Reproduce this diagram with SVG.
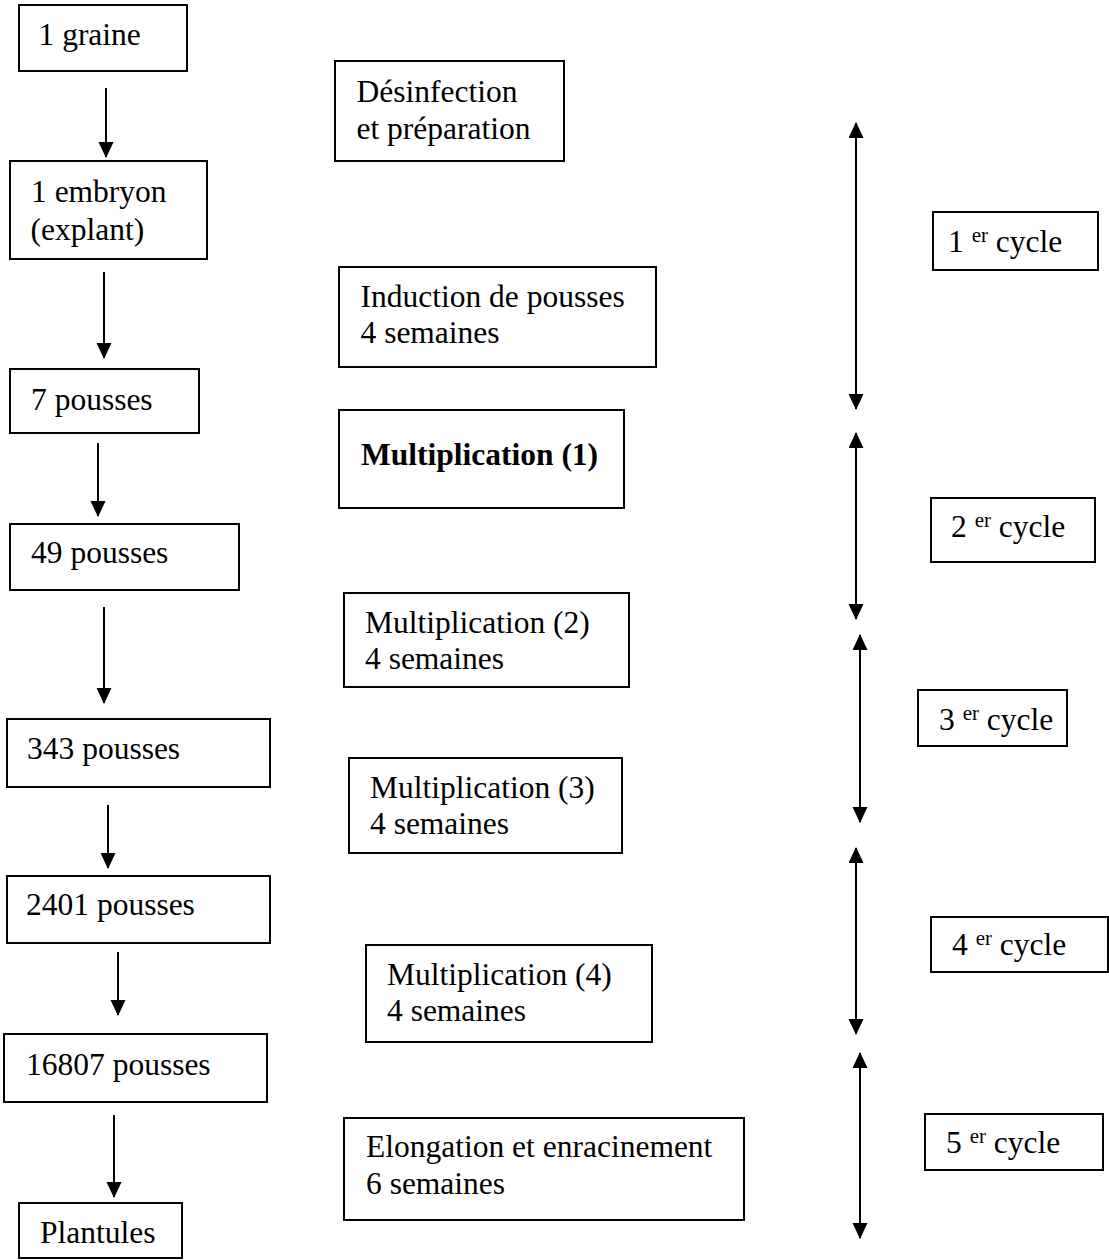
<svg xmlns="http://www.w3.org/2000/svg" width="1109" height="1260" viewBox="0 0 1109 1260">
<style>
rect{fill:#fff;stroke:#000;stroke-width:2}
text{font-family:"Liberation Serif","Times New Roman",serif;font-size:31.5px;fill:#000}
.b{font-weight:bold}
.sup{font-size:21px}
.c line{stroke:#000;stroke-width:2}
</style>
<defs>
<marker id="ah" markerUnits="userSpaceOnUse" markerWidth="16" markerHeight="16" refX="15" refY="7.5" orient="auto-start-reverse">
<path d="M0,0 L16,7.5 L0,15 z" fill="#000"/>
</marker>
</defs>
<rect x="0" y="0" width="1109" height="1260" style="stroke:none"/>
<g class="c" id="connectors">
<line x1="106" y1="88" x2="106" y2="157" marker-end="url(#ah)"/>
<line x1="104" y1="272" x2="104" y2="358" marker-end="url(#ah)"/>
<line x1="98" y1="443" x2="98" y2="516" marker-end="url(#ah)"/>
<line x1="104" y1="607" x2="104" y2="703" marker-end="url(#ah)"/>
<line x1="108" y1="805" x2="108" y2="868" marker-end="url(#ah)"/>
<line x1="118" y1="952" x2="118" y2="1015" marker-end="url(#ah)"/>
<line x1="114" y1="1115" x2="114" y2="1197" marker-end="url(#ah)"/>
<line x1="856" y1="123" x2="856" y2="409" marker-start="url(#ah)" marker-end="url(#ah)"/>
<line x1="856" y1="433" x2="856" y2="619" marker-start="url(#ah)" marker-end="url(#ah)"/>
<line x1="860" y1="635" x2="860" y2="822" marker-start="url(#ah)" marker-end="url(#ah)"/>
<line x1="856" y1="848" x2="856" y2="1034" marker-start="url(#ah)" marker-end="url(#ah)"/>
<line x1="860" y1="1053" x2="860" y2="1238" marker-start="url(#ah)" marker-end="url(#ah)"/>
</g>
<g id="n-graine"><rect x="19" y="5" width="168" height="66"/><text x="38.5" y="45">1 graine</text></g>
<g id="n-embryon"><rect x="10" y="161" width="197" height="98"/><text x="31" y="202">1 embryon</text><text x="30.5" y="240">(explant)</text></g>
<g id="n-7"><rect x="10" y="369" width="189" height="64"/><text x="31" y="410">7 pousses</text></g>
<g id="n-49"><rect x="10" y="524" width="229" height="66"/><text x="31" y="563">49 pousses</text></g>
<g id="n-343"><rect x="7" y="719" width="263" height="68"/><text x="27" y="759">343 pousses</text></g>
<g id="n-2401"><rect x="7" y="876" width="263" height="67"/><text x="26" y="915">2401 pousses</text></g>
<g id="n-16807"><rect x="4" y="1034" width="263" height="68"/><text x="26" y="1075">16807 pousses</text></g>
<g id="n-plantules"><rect x="19" y="1203" width="163" height="55"/><text x="40" y="1243">Plantules</text></g>
<g id="s-desinfection"><rect x="335" y="61" width="229" height="100"/><text x="356.5" y="102">Désinfection</text><text x="356.5" y="138.5">et préparation</text></g>
<g id="s-induction"><rect x="339" y="267" width="317" height="100"/><text x="360.5" y="307">Induction de pousses</text><text x="360.5" y="343">4 semaines</text></g>
<g id="s-mult1"><rect x="339" y="410" width="285" height="98"/><text class="b" x="361" y="465">Multiplication (1)</text></g>
<g id="s-mult2"><rect x="344" y="593" width="285" height="94"/><text x="365" y="633">Multiplication (2)</text><text x="365" y="669">4 semaines</text></g>
<g id="s-mult3"><rect x="349" y="758" width="273" height="95"/><text x="370" y="798">Multiplication (3)</text><text x="370" y="834">4 semaines</text></g>
<g id="s-mult4"><rect x="366" y="945" width="286" height="97"/><text x="387" y="985">Multiplication (4)</text><text x="387" y="1021">4 semaines</text></g>
<g id="s-elong"><rect x="344" y="1118" width="400" height="102"/><text x="366" y="1157">Elongation et enracinement</text><text x="366" y="1194">6 semaines</text></g>
<g id="c1"><rect x="933" y="212" width="165" height="58"/><text x="948" y="252">1 <tspan class="sup" dy="-10">er</tspan><tspan dy="10"> cycle</tspan></text></g>
<g id="c2"><rect x="931" y="498" width="164" height="64"/><text x="951" y="537">2 <tspan class="sup" dy="-10">er</tspan><tspan dy="10"> cycle</tspan></text></g>
<g id="c3"><rect x="918" y="690" width="149" height="56"/><text x="939" y="730">3 <tspan class="sup" dy="-10">er</tspan><tspan dy="10"> cycle</tspan></text></g>
<g id="c4"><rect x="931" y="917" width="177" height="55"/><text x="952" y="955">4 <tspan class="sup" dy="-10">er</tspan><tspan dy="10"> cycle</tspan></text></g>
<g id="c5"><rect x="925" y="1114" width="178" height="56"/><text x="946" y="1153">5 <tspan class="sup" dy="-10">er</tspan><tspan dy="10"> cycle</tspan></text></g>
</svg>
